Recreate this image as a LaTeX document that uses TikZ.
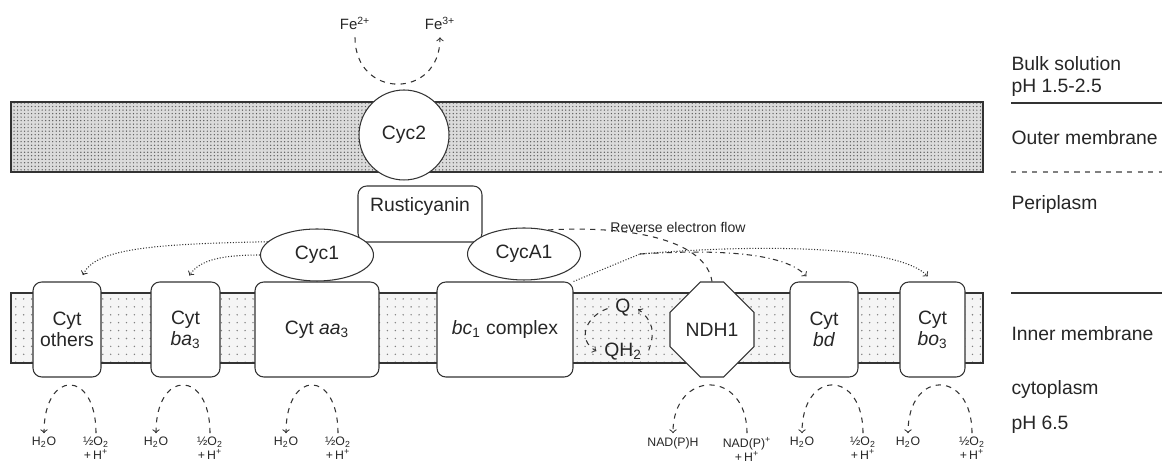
\documentclass[tikz,border=0pt]{standalone}
\usepackage{fontspec}
\setmainfont{Liberation Sans}
\usepackage{tikz}
\usetikzlibrary{arrows}
\usetikzlibrary{calc}
\usetikzlibrary{shapes.geometric,shapes.misc,patterns.meta}

\begin{document}
\begin{tikzpicture}[x=0.02cm, y=0.02cm,
    font=\fontsize{11}{12}\selectfont, text=black!85,
    line width=0.6pt, draw=black!80,
    prot/.style={draw, fill=white, rounded corners=5pt, minimum height=1.9cm,
        align=center, inner sep=1pt},
    cyc/.style={draw, fill=white, ellipse, minimum width=2.26cm, minimum height=1.04cm},
    chem/.style={font=\fontsize{7}{8}\selectfont, anchor=north, align=center, inner sep=1pt},
    side/.style={anchor=west, inner sep=0pt},
    flow/.style={dashed, ->, shorten >=1pt, shorten <=1pt},
    ]
    \useasboundingbox (0,0) rectangle (1165,465);

    % membranes
    \draw[preaction={fill=gray!28}, pattern={Dots[distance=2pt, radius=0.4pt]},
        pattern color=gray!70!black] (11,293) rectangle (983,363);
    \draw[preaction={fill=gray!8}, pattern={Dots[distance=4.5pt, radius=0.45pt]},
        pattern color=gray] (11,102) rectangle (983,172);

    \node[draw, circle, fill=white, minimum size=1.8cm] (cyc2) at (404,330) {Cyc2};
    \node[font=\fontsize{8.5}{9}\selectfont] (fe2) at (355,442) {Fe\textsuperscript{2+}};
    \node[font=\fontsize{8.5}{9}\selectfont] (fe3) at (440,442) {Fe\textsuperscript{3+}};
    \draw[flow] (fe2.south) .. controls +(0,-64) and +(0,-64) .. (fe3.south);

    \node[prot, minimum width=2.48cm, minimum height=1.12cm,
        label={[anchor=north, yshift=-3pt]north:Rusticyanin}] (rust) at (420,251) {};
    \node[cyc] (cyc1) at (317,210) {Cyc1};
    \node[cyc] (cyca1) at (524,211) {CycA1};

    \node[prot, minimum width=1.36cm] (others) at (67,135.5) {Cyt\\others};
    \node[prot, minimum width=1.38cm] (ba) at (185.5,135.5) {Cyt\\\textit{ba}\textsubscript{3}};
    \node[prot, minimum width=2.48cm] (aa) at (317,135.5) {Cyt \textit{aa}\textsubscript{3}};
    \node[prot, minimum width=2.72cm] (bc) at (505,135.5) {\textit{bc}\textsubscript{1} complex};
    \node[draw, fill=white, chamfered rectangle, chamfered rectangle xsep=0.44cm,
        chamfered rectangle ysep=0.44cm, minimum width=1.68cm, minimum height=1.9cm,
        inner sep=1pt] (ndh) at (712,135.5) {NDH1};
    \node[prot, minimum width=1.36cm] (bd) at (824,135.5) {Cyt\\\textit{bd}};
    \node[prot, minimum width=1.30cm] (bo) at (932.5,135.5) {Cyt\\\textit{bo}\textsubscript{3}};

    % quinone pool
    \node (q) at (623,157) {Q};
    \node (qh2) at (623,113) {QH\textsubscript{2}};
    \draw[flow] (q.west) to[out=200, in=150, looseness=1.4] (qh2.west);
    \draw[flow] (qh2.east) to[out=70, in=-40, looseness=1.2] (q.east);

    % electron routes
    \draw[densely dotted, ->, shorten >=4pt] (cyc1.165) .. controls (150,221) and (95,216) .. (others.75);
    \draw[densely dotted, ->, shorten >=4pt] (cyc1.west) .. controls (225,210) and (200,206) .. (ba.north);
    \node[font=\fontsize{8}{9}\selectfont] (rev) at (678,238) {Reverse electron flow};
    \draw[dashed] (cyca1.45) .. controls (640,240) and (706,222) .. (ndh.north);
    \coordinate (qj) at (640,211);
    \draw[densely dotted] (bc.north east) -- (qj);
    \draw[dash dot, ->, shorten >=4pt] (qj) .. controls (720,216) and (785,212) .. (bd.105);
    \draw[densely dotted, ->, shorten >=4pt] (qj) .. controls (770,222) and (900,218) .. (bo.north);

    % terminal oxidases
    \foreach \nm/\xl/\xr in {others/44/96, ba/156/210, aa/286/338, bd/802/863, bo/908/972} {
        \node[chem] (h2o-\nm) at (\xl,30) {H\textsubscript{2}O};
        \node[chem] (o2-\nm) at (\xr,30) {½O\textsubscript{2}\\+\,H\textsuperscript{+}};
        \draw[flow] (o2-\nm.north) .. controls +(0,66) and +(0,66) .. (h2o-\nm.north);
    }
    \node[chem] (nadh) at (673,30) {NAD(P)H};
    \node[chem] (nad) at (747,30) {NAD(P)\textsuperscript{+}\\+\,H\textsuperscript{+}};
    \draw[flow] (nad.north) .. controls +(0,66) and +(0,66) .. (nadh.north);

    % compartments
    \node[side] (bulk) at (1011,401) {Bulk solution};
    \node[side] (phout) at (1011,377) {pH 1.5-2.5};
    \draw (1011,362) -- (1162,362);
    \node[side] (om) at (1011,327) {Outer membrane};
    \draw[dashed, gray] (1011,293) -- (1162,293);
    \node[side] (peri) at (1011,260) {Periplasm};
    \draw (1011,172) -- (1162,172);
    \node[side] (im) at (1011,131) {Inner membrane};
    \node[side] (cyto) at (1011,75) {cytoplasm};
    \node[side] (phin) at (1011,40) {pH 6.5};
\end{tikzpicture}
\end{document}
